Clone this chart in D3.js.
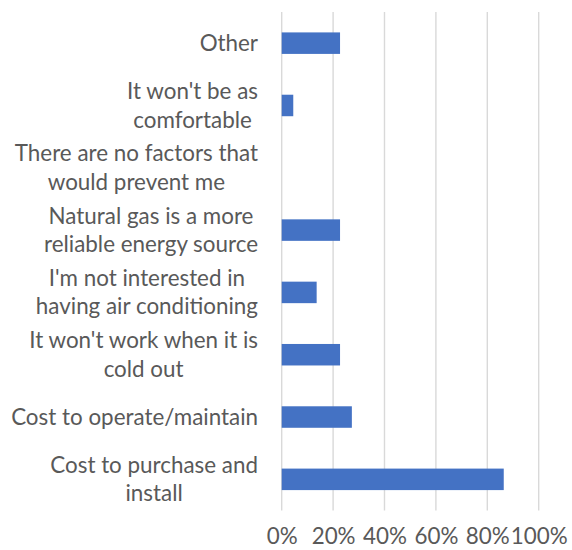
<!DOCTYPE html>
<html>
<head>
<meta charset="utf-8">
<script src="https://cdn.jsdelivr.net/npm/d3@7"></script>
<style>
  html, body { margin: 0; padding: 0; background: #fff; }
  svg text { font-family: Lato, "Open Sans", sans-serif; fill: #595959; }
</style>
</head>
<body>
<svg id="chart" width="572" height="550"></svg>
<script>
// Reasons given, top to bottom; "\n" marks a wrapped line
const categories = [
  "Other",
  "It won't be as\ncomfortable",
  "There are no factors that\nwould prevent me",
  "Natural gas is a more\nreliable energy source",
  "I'm not interested in\nhaving air conditioning",
  "It won't work when it is\ncold out",
  "Cost to operate/maintain",
  "Cost to purchase and\ninstall"
];
// Share of respondents (%)
const values = [22.7, 4.5, 0, 22.7, 13.6, 22.7, 27.3, 86.4];
const tickValues = [0, 20, 40, 60, 80, 100];

const svg = d3.select("#chart");
const fontSize = 22.4;
const lineHeight = 28.5;
const labelRight = 258;

const x = d3.scaleLinear().domain([0, 100]).range([281.7, 538.7]);
const y = d3.scaleBand()
  .domain(categories)
  .range([12, 510.5])
  .paddingInner(0.655)
  .paddingOuter(0.655 / 2);

// vertical gridlines
svg.append("g")
  .selectAll("line")
  .data(tickValues)
  .join("line")
  .attr("x1", d => x(d)).attr("x2", d => x(d))
  .attr("y1", 12).attr("y2", 510.5)
  .attr("stroke", "#d9d9d9")
  .attr("stroke-width", 1.4);

// bars
svg.append("g")
  .selectAll("rect")
  .data(categories.map((c, i) => ({ c, v: values[i] })))
  .join("rect")
  .attr("x", x(0))
  .attr("y", d => y(d.c))
  .attr("width", d => x(d.v) - x(0))
  .attr("height", y.bandwidth())
  .attr("fill", "#4472c4");

// x axis tick labels
const xAxis = d3.axisBottom(x)
  .tickValues(tickValues)
  .tickFormat(d => d + "%")
  .tickSize(0)
  .tickPadding(0);
const gx = svg.append("g")
  .attr("transform", "translate(0,527)")
  .call(xAxis);
gx.select(".domain").remove();
gx.selectAll("text")
  .attr("dy", "0.75em")
  .style("font-size", fontSize + "px")
  .style("font-family", "Lato, 'Open Sans', sans-serif")
  .attr("fill", "#595959");

// category labels: lines centred within a block right-aligned at the axis
const labels = svg.append("g");
categories.forEach(c => {
  const lines = c.split("\n");
  const t = labels.append("text")
    .attr("text-anchor", "middle")
    .style("font-size", fontSize + "px");
  const cy = y(c) + y.bandwidth() / 2;
  const first = cy - (lines.length - 1) * lineHeight / 2;
  lines.forEach((ln, j) => {
    t.append("tspan")
      .attr("x", 0)
      .attr("y", first + j * lineHeight)
      .attr("dy", "0.35em")
      .text(ln);
  });
  const w = d3.max(t.selectAll("tspan").nodes(), n => n.getComputedTextLength());
  t.selectAll("tspan").attr("x", labelRight - w / 2);
});
</script>
</body>
</html>
